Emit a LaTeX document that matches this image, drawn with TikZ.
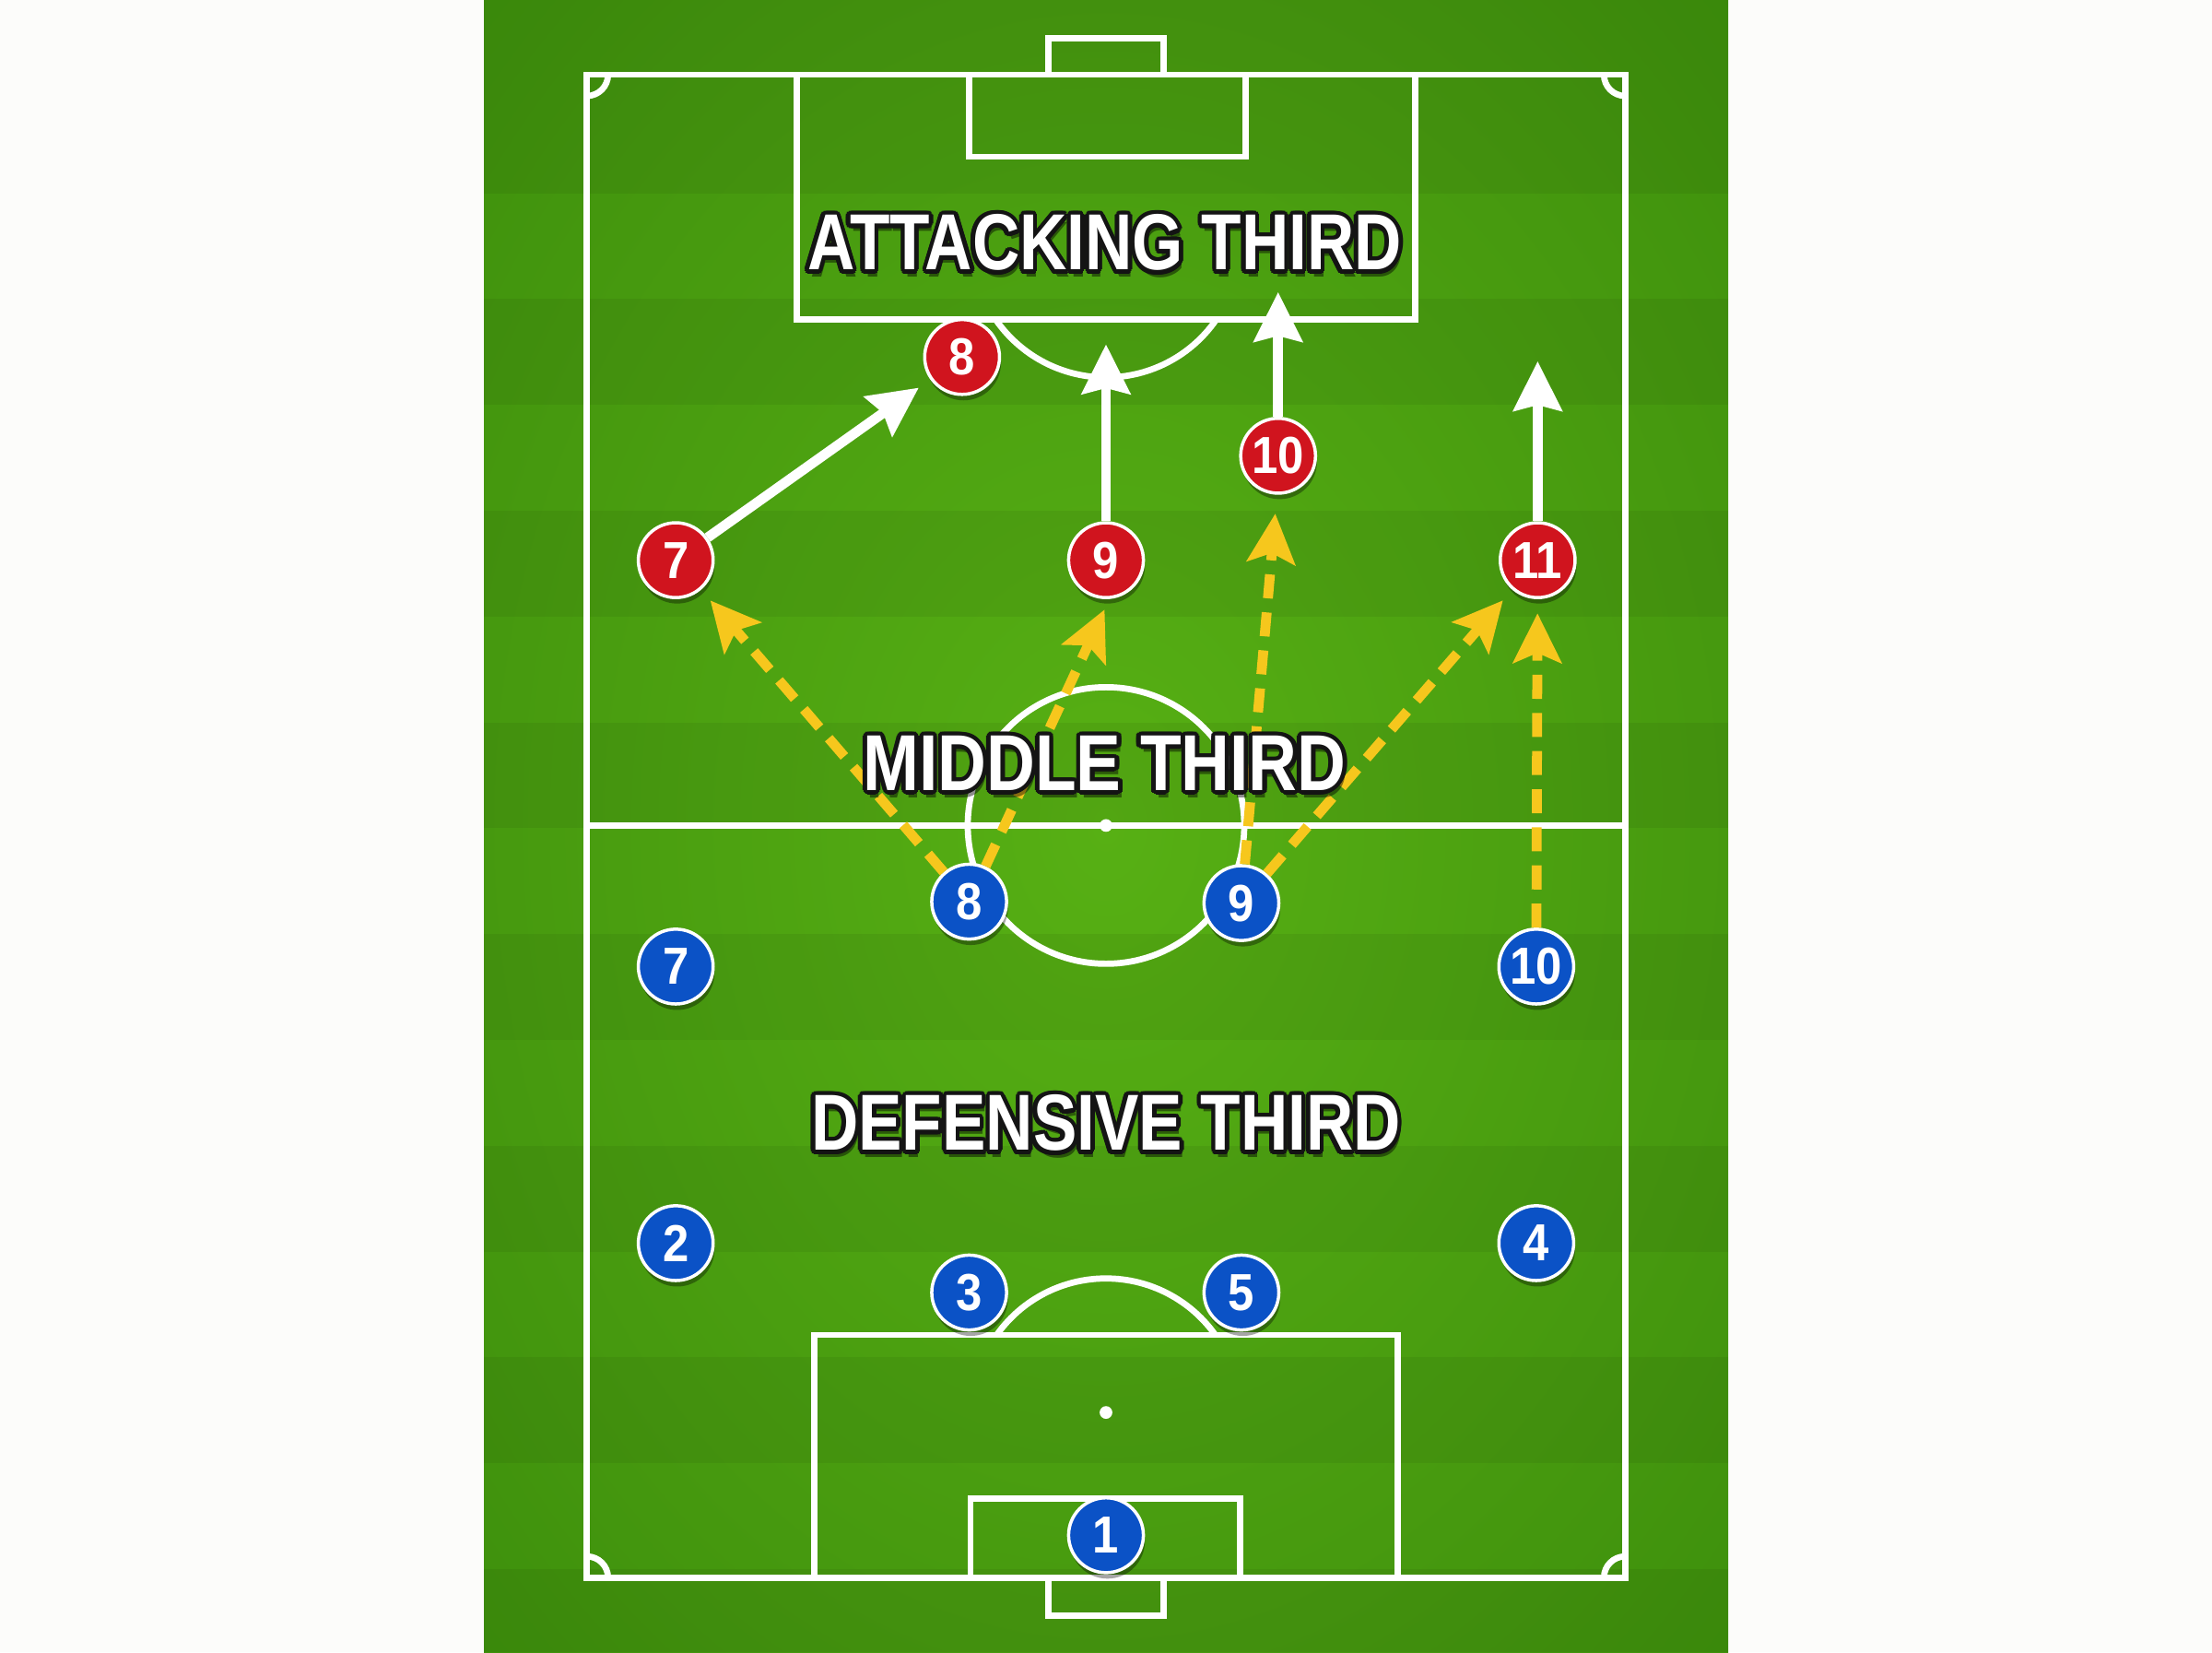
\documentclass[tikz,border=0pt]{standalone}
\usepackage{fontspec}
\setmainfont{Liberation Sans}
\usepackage{graphicx}
\usetikzlibrary{arrows.meta,calc,shadows}
\definecolor{bgc}{HTML}{FCFCFA}
\definecolor{gIn}{HTML}{57B014}
\definecolor{gMid}{HTML}{479A0F}
\definecolor{gOut}{HTML}{37890A}
\definecolor{gEdge}{HTML}{2B7705}
\definecolor{redc}{HTML}{D0141E}
\definecolor{bluec}{HTML}{0B52C6}
\definecolor{yelc}{HTML}{F6C71D}
\definecolor{outlinec}{HTML}{141414}
\pgfdeclareradialshading{pitchglow}{\pgfpoint{0bp}{0bp}}{color(0bp)=(gIn); color(24bp)=(gMid); color(44bp)=(gOut); color(72bp)=(gEdge)}
\newcommand{\pnum}[1]{\scalebox{0.9}[1]{#1}}
\newcommand{\zonelabel}[4]{%
  \node[zonefont, text=black, text opacity=0.45] at ($(#2)+(2,5)$) {\scalebox{#3}[1]{#4}};
  \foreach \zang in {0,22.5,...,337.5}{%
    \node[zonefont, text=outlinec] at ($(#2)+(\zang:3)$) {\scalebox{#3}[1]{#4}};}
  \node[zonefont, text=white] (#1) at (#2) {\scalebox{#3}[1]{#4}};
}
\begin{document}
\begin{tikzpicture}[x=0.01cm, y=-0.01cm,
  pline/.style={draw=white, line width=1.25pt},
  player/.style={circle, minimum size=0.53cm, inner sep=0pt, draw=white, line width=0.65pt, text=white,
    font=\fontsize{10.5}{11}\selectfont\bfseries,
    drop shadow={shadow xshift=0.3pt, shadow yshift=-1.2pt, opacity=0.35, fill=black}},
  redp/.style={player, fill=redc},
  bluep/.style={player, fill=bluec},
  runarrow/.style={draw=white, line width=2pt, -{Stealth[length=0.35cm, width=0.34cm, inset=0.04cm]}},
  passarrow/.style={draw=yelc, line width=2pt, dash pattern=on 0.17cm off 0.1cm,
    -{Stealth[length=0.35cm, width=0.34cm, inset=0.07cm]}},
  zonefont/.style={inner sep=0pt, font=\fontsize{16}{17}\selectfont\bfseries},
]
\useasboundingbox (0,0) rectangle (1568,1171);
\fill[bgc] (0,0) rectangle (1568,1171);
% field
\shade[shading=pitchglow] (343,0) rectangle (1225,1171);
\fill[black, opacity=0.055] (343,0) rectangle (1225,137);
\foreach \ys in {212,362,512,662,812,962}{\fill[black, opacity=0.055] (343,\ys) rectangle (1225,\ys+75);}
\fill[black, opacity=0.055] (343,1112) rectangle (1225,1171);
% pitch markings
\draw[pline] (416,53) rectangle (1152,1118);
\draw[pline] (416,585) -- (1152,585);
\draw[pline] (784,585) circle[radius=98];
\fill[white] (784,585) circle[radius=4.5];
% top end
\draw[pline] (743,27) rectangle (825,53);
\draw[pline] (687,53) rectangle (883,111);
\draw[pline] (565,53) rectangle (1003,226.5);
\draw[pline] (784,172.5) ++(34.7:95) arc[start angle=34.7, end angle=145.3, radius=95];
% bottom end
\draw[pline] (743,1118) rectangle (825,1145);
\draw[pline] (688,1062) rectangle (879,1118);
\draw[pline] (577,946) rectangle (991,1118);
\draw[pline] (784,1001) ++(215.4:95) arc[start angle=215.4, end angle=324.6, radius=95];
\fill[white] (784,1001) circle[radius=4.5];
% corner arcs
\draw[pline] (416,53) ++(0:15) arc[start angle=0, end angle=90, radius=15];
\draw[pline] (1152,53) ++(90:15) arc[start angle=90, end angle=180, radius=15];
\draw[pline] (416,1118) ++(270:15) arc[start angle=270, end angle=360, radius=15];
\draw[pline] (1152,1118) ++(180:15) arc[start angle=180, end angle=270, radius=15];
% players
\node[redp] (r8) at (682,253) {\pnum{8}};
\node[redp] (r7) at (479,397) {\pnum{7}};
\node[redp] (r9) at (784,397) {\pnum{9}};
\node[redp] (r10) at (906,323) {\pnum{10}};
\node[redp] (r11) at (1090,397) {\pnum{11}};
\node[bluep] (b8) at (687,639) {\pnum{8}};
\node[bluep] (b9) at (880,640) {\pnum{9}};
\node[bluep] (b7) at (479,685) {\pnum{7}};
\node[bluep] (b10) at (1089,685) {\pnum{10}};
\node[bluep] (b2) at (479,881) {\pnum{2}};
\node[bluep] (b4) at (1089,881) {\pnum{4}};
\node[bluep] (b3) at (687,916) {\pnum{3}};
\node[bluep] (b5) at (880,916) {\pnum{5}};
\node[bluep] (b1) at (784,1088) {\pnum{1}};
% arrow ends
\coordinate (t9) at (784,244);
\coordinate (t10) at (906,207);
\coordinate (t11) at (1090,256);
\coordinate (p9) at (783,432);
\coordinate (p10) at (904,364);
% runs
\draw[runarrow, shorten >=0.1cm] (r7) -- (r8);
\draw[runarrow] (r9) -- (t9);
\draw[runarrow] (r10) -- (t10);
\draw[runarrow] (r11) -- (t11);
% passes
\draw[passarrow, shorten >=0.1cm] (b8) -- (r7);
\draw[passarrow] (b8) -- (p9);
\draw[passarrow] (b9) -- (p10);
\draw[passarrow, shorten >=0.1cm] (b9) -- (r11);
\draw[passarrow, shorten >=0.1cm] (b10) -- (r11);
% zone labels
\zonelabel{atk}{783,172}{0.825}{ATTACKING THIRD}
\zonelabel{mid}{783,541}{0.849}{MIDDLE THIRD}
\zonelabel{def}{784,796}{0.825}{DEFENSIVE THIRD}
\end{tikzpicture}
\end{document}
